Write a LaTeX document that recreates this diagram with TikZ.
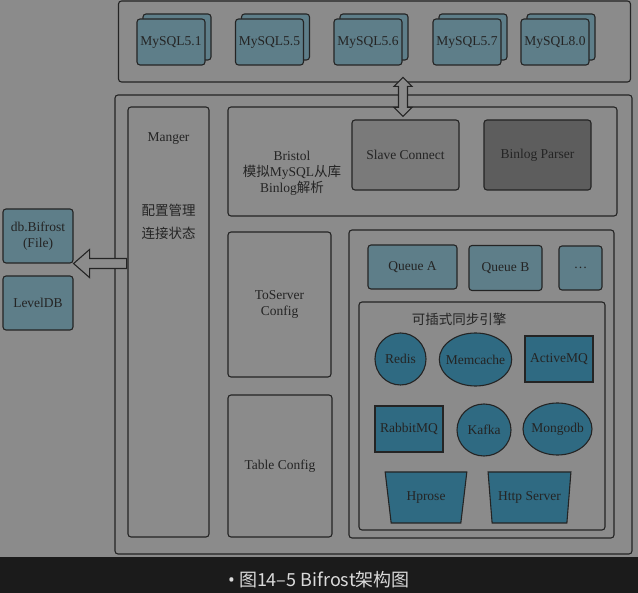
\documentclass[tikz,border=0pt]{standalone}
\usepackage{fontspec}
\setmainfont{Liberation Serif}
\newfontfamily\cjk{Noto Sans CJK SC}
\newfontfamily\capsans{Noto Sans}
\usetikzlibrary{shapes.geometric}
\definecolor{bg}{HTML}{8B8B8B}
\definecolor{ln}{HTML}{242424}
\definecolor{dbfill}{HTML}{5E7E89}
\definecolor{engfill}{HTML}{2F6A82}
\definecolor{slavefill}{HTML}{7A7A7A}
\definecolor{parserfill}{HTML}{5D5D5D}
\definecolor{band}{HTML}{1B1B1B}
\definecolor{captxt}{HTML}{DADADA}

\begin{document}
\begin{tikzpicture}[x=1pt,y=-1pt,
		box/.style={draw=ln,line width=1.1pt,rounded corners=3pt,inner sep=0pt,align=center,text=ln},
		dbbox/.style={box,fill=dbfill,minimum width=68pt,minimum height=46pt},
		engine/.style={draw=ln,line width=1.1pt,fill=engfill,inner sep=0pt,text=ln},
		round/.style={engine,ellipse,inner xsep=-4pt},
		hollow/.style={draw=ln,line width=1.1pt,fill=bg,line join=miter},
		font=\fontsize{13.5}{16}\selectfont]
		\useasboundingbox (0,0) rectangle (638,593);
		\fill[bg] (0,0) rectangle (638,557);
		\fill[band] (0,557) rectangle (638,593);

		\draw (374.5,41.5) node [box,minimum width=512pt,minimum height=81pt] (top) {};
		\foreach \x/\v [count=\i] in {171/5.1,269.5/5.5,368/5.6,467/5.7,555/8.0} {
			\draw (\x+6,37) node [dbbox] (myb\i) {};
			\draw (\x,42) node [dbbox] (my\i) {MySQL\v};
		}

		\draw (373.5,324.5) node [box,minimum width=517pt,minimum height=459pt] (main) {};
		\draw (168.5,322) node [box,minimum width=81pt,minimum height=430pt] (mgr) {};
		\draw (168.5,139) node [text=ln] (mgrname) {Manger};
		\draw (168.5,221.5) node [text=ln,align=center,font=\cjk\fontsize{13.5}{23}\selectfont] (mgrtxt) {配置管理\\连接状态};

		\draw (422.5,161.5) node [box,minimum width=389pt,minimum height=109pt] (bristol) {};
		\draw (292,173) node [text=ln,align=center] (bristoltxt) {Bristol\\{\cjk 模拟}MySQL{\cjk 从库}\\Binlog{\cjk 解析}};
		\draw (405.5,155) node [box,fill=slavefill,minimum width=107pt,minimum height=70pt] (slave) {Slave Connect};
		\draw (537.5,155) node [box,fill=parserfill,minimum width=107pt,minimum height=70pt] (parser) {Binlog Parser};

		\draw (279.5,304.5) node [box,minimum width=103pt,minimum height=145pt] (toserver) {ToServer\\Config};
		\draw (280,466) node [box,minimum width=104pt,minimum height=142pt] (table) {Table Config};

		\draw (481.5,384) node [box,minimum width=265pt,minimum height=308pt] (right) {};
		\draw (412.5,267) node [box,fill=dbfill,minimum width=89pt,minimum height=44pt] (qa) {Queue A};
		\draw (505.5,268) node [box,fill=dbfill,minimum width=73pt,minimum height=45pt] (qb) {Queue B};
		\draw (580.5,268) node [box,fill=dbfill,minimum width=43pt,minimum height=44pt] (qmore) {\dots};

		\draw (482,416) node [box,minimum width=246pt,minimum height=228pt] (eng) {};
		\draw (459,319) node [text=ln,font=\cjk\fontsize{13.5}{16}\selectfont] (engname) {可插式同步引擎};
		\draw (400.5,359) node [round,minimum width=51pt,minimum height=52pt] (redis) {Redis};
		\draw (475.5,359.5) node [round,minimum width=71pt,minimum height=53pt] (memcache) {Memcache};
		\draw (559,359) node [engine,minimum width=68pt,minimum height=46pt] (activemq) {ActiveMQ};
		\draw (409,429) node [engine,minimum width=68pt,minimum height=46pt] (rabbitmq) {RabbitMQ};
		\draw (484,430) node [round,minimum width=54pt,minimum height=52pt] (kafka) {Kafka};
		\draw (557.5,429) node [round,minimum width=69pt,minimum height=52pt] (mongodb) {Mongodb};
		\draw (426,497.5) node [engine,trapezium,shape border rotate=180,trapezium angle=74,trapezium stretches=true,minimum width=82pt,minimum height=51pt] (hprose) {Hprose};
		\draw (529.5,497.5) node [engine,trapezium,shape border rotate=180,trapezium angle=74,trapezium stretches=true,minimum width=83pt,minimum height=51pt] (http) {Http Server};

		\draw (38,236) node [box,fill=dbfill,minimum width=70pt,minimum height=54pt] (file) {db.Bifrost\\(File)};
		\draw (38,303) node [box,fill=dbfill,minimum width=70pt,minimum height=54pt] (leveldb) {LevelDB};

		\draw[hollow] (file.south east) -- ++(16,-14) -- ++(0,9) -- ++(37,0) -- ++(0,10) -- ++(-37,0) -- ++(0,9) -- cycle;
		\draw[hollow] (slave.north) ++(-2.5,-3) -- ++(9,-9) -- ++(-4.5,0) -- ++(0,-21) -- ++(4.5,0) -- ++(-9,-9)
			-- ++(-9,9) -- ++(4.5,0) -- ++(0,21) -- ++(-4.5,0) -- cycle;

		\draw (319,580) node [text=captxt,font=\cjk\fontsize{18}{20}\selectfont] (cap) {{\capsans •} 图14–5 Bifrost架构图};
	\end{tikzpicture}
\end{document}
